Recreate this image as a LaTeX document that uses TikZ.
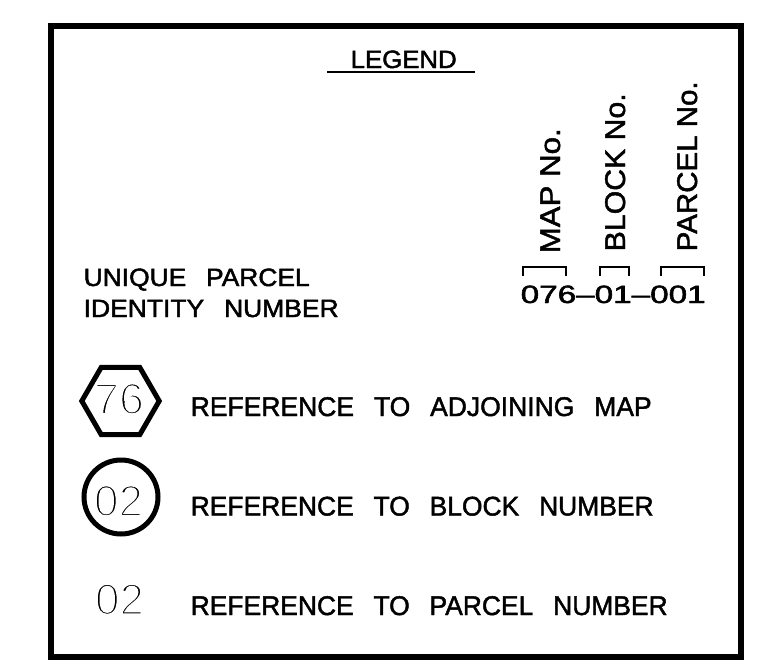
\documentclass[tikz,border=0pt]{standalone}
\usepackage{fontspec}
\usepackage{graphicx}
\setmainfont{Liberation Sans}
\newcommand\fitw[2]{\resizebox{#1}{\height}{\special{pdf:literal direct 2 Tr 0 G 0.45 w}#2\special{pdf:literal direct 0 Tr 0 G 0.4 w}}}
\newcommand\gap{\hspace{0.75em}}
\newcommand\thinw[2]{\resizebox{#1}{\height}{\special{pdf:literal direct 2 Tr 1 G 2.2 w}#2\special{pdf:literal direct 0 Tr 0 G 0.4 w}}}
\begin{document}
\begin{tikzpicture}[x=1pt,y=-1pt,
  lbl/.style={inner sep=0pt, anchor=base west, font=\fontsize{27}{29}\selectfont},
  small/.style={lbl, font=\fontsize{25}{27}\selectfont},
  rot/.style={inner sep=0pt, anchor=base west, rotate=90, font=\fontsize{28.5}{30}\selectfont},
  num/.style={inner sep=0pt, anchor=base, font=\fontsize{44}{46}\selectfont},
  bracket/.style={line width=2.6pt, line cap=butt, line join=miter},
  thick frame/.style={line width=5pt}]
\useasboundingbox (0,0) rectangle (760,669);
\draw[line width=6pt] (50.5,26) rectangle (740.5,656.5);

% heading
\node[small] (legend) at (350.5,68) {\fitw{106pt}{LEGEND}};
\coordinate (ulA) at (327,72);
\coordinate (ulB) at (475,72);
\draw[line width=2pt] (ulA) -- (ulB);

% unique parcel identity number
\node[small] (uniq) at (83.5,286) {\fitw{226pt}{UNIQUE\gap PARCEL}};
\node[small] (ident) at (83.5,317) {\fitw{255pt}{IDENTITY\gap NUMBER}};

\node[small] (upin) at (520.5,303) {\fitw{185pt}{076–01–001}};

% brackets
\coordinate (b1a) at (523,276); \coordinate (b1b) at (523,267);
\coordinate (b1c) at (566,267); \coordinate (b1d) at (566,276);
\draw[bracket] (b1a) -- (b1b) -- (b1c) -- (b1d);
\coordinate (b2a) at (600,276); \coordinate (b2b) at (600,267);
\coordinate (b2c) at (629,267); \coordinate (b2d) at (629,276);
\draw[bracket] (b2a) -- (b2b) -- (b2c) -- (b2d);
\coordinate (b3a) at (661,276); \coordinate (b3b) at (661,267);
\coordinate (b3c) at (704,267); \coordinate (b3d) at (704,276);
\draw[bracket] (b3a) -- (b3b) -- (b3c) -- (b3d);

% rotated labels
\node[rot] (mapno) at (560,253.5) {\fitw{125pt}{MAP No.}};
\node[rot] (blockno) at (625,251.5) {\fitw{158pt}{BLOCK No.}};
\node[rot] (parcelno) at (697,251.5) {\fitw{170pt}{PARCEL No.}};

% hexagon row
\coordinate (hc) at (120.5,401);
\draw[thick frame, line join=miter] (hc) ++(0:38.7) -- ++(120:38.7) -- ++(180:38.7) -- ++(240:38.7) -- ++(300:38.7) -- ++(0:38.7) -- cycle;
\node[lbl] (r1) at (190.5,416) {\fitw{461pt}{REFERENCE\gap TO\gap ADJOINING\gap MAP}};

% circle row
\node[draw, circle, thick frame, minimum size=74pt, inner sep=0pt] (c02) at (121,497) {};
\node[lbl] (r2) at (190.5,515.5) {\fitw{463pt}{REFERENCE\gap TO\gap BLOCK\gap NUMBER}};

% plain row
\node[lbl] (r3) at (190.5,615) {\fitw{477pt}{REFERENCE\gap TO\gap PARCEL\gap NUMBER}};

% thin numerals (drawn last)
\node[num] (t76) at (119,414) {\thinw{50pt}{76}};
\node[num] (t02a) at (118.5,516) {\thinw{49pt}{02}};
\node[num] (t02b) at (119.5,614.5) {\thinw{49pt}{02}};
\end{tikzpicture}
\end{document}
